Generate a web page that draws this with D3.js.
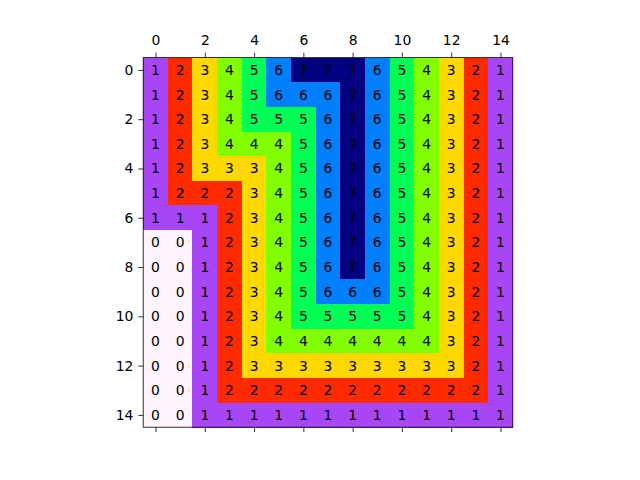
<!DOCTYPE html>
<html><head><meta charset="utf-8">
<script src="https://cdn.jsdelivr.net/npm/d3@7"></script>
<style>body{margin:0;background:#fff}svg{display:block}text{font-family:"DejaVu Sans",sans-serif}</style>
</head><body>
<svg id="c" width="640" height="480"></svg>
<script>
const rows = [
 [1,2,3,4,5,6,7,7,7,6,5,4,3,2,1],
 [1,2,3,4,5,6,6,6,7,6,5,4,3,2,1],
 [1,2,3,4,5,5,5,6,7,6,5,4,3,2,1],
 [1,2,3,4,4,4,5,6,7,6,5,4,3,2,1],
 [1,2,3,3,3,4,5,6,7,6,5,4,3,2,1],
 [1,2,2,2,3,4,5,6,7,6,5,4,3,2,1],
 [1,1,1,2,3,4,5,6,7,6,5,4,3,2,1],
 [0,0,1,2,3,4,5,6,7,6,5,4,3,2,1],
 [0,0,1,2,3,4,5,6,7,6,5,4,3,2,1],
 [0,0,1,2,3,4,5,6,6,6,5,4,3,2,1],
 [0,0,1,2,3,4,5,5,5,5,5,4,3,2,1],
 [0,0,1,2,3,4,4,4,4,4,4,4,3,2,1],
 [0,0,1,2,3,3,3,3,3,3,3,3,3,2,1],
 [0,0,1,2,2,2,2,2,2,2,2,2,2,2,1],
 [0,0,1,1,1,1,1,1,1,1,1,1,1,1,1]
];
const levels = [0,1,2,3,4,5,6,7];
const levelColors = ["#fef5fc","#a846f5","#ff2a00","#ffd800","#82ff00","#00ff55","#0080ff","#000080"];
const tickValues = [0,2,4,6,8,10,12,14];

(function(){
const svg = d3.select("#c");
const n = rows.length;
const x0 = 143.2, y0 = 57.6, size = 369.6;
const x = d3.scaleLinear().domain([-0.5, n-0.5]).range([x0, x0+size]);
const y = d3.scaleLinear().domain([-0.5, n-0.5]).range([y0, y0+size]);
const color = d3.scaleOrdinal().domain(levels).range(levelColors);

const cells = [];
rows.forEach((r,i)=>r.forEach((v,j)=>cells.push({i,j,v})));
const cw = x(1)-x(0);
svg.append("g").selectAll("rect").data(cells).join("rect")
  .attr("x", d=>x(d.j-0.5)).attr("y", d=>y(d.i-0.5))
  .attr("width", cw+0.5).attr("height", cw+0.5)
  .attr("fill", d=>color(d.v)).attr("shape-rendering","crispEdges");
svg.append("g").selectAll("text").data(cells).join("text")
  .attr("x", d=>x(d.j)).attr("y", d=>y(d.i)).attr("dy","0.36em")
  .attr("text-anchor","middle")
  .attr("font-size","13.9px").attr("fill","#000").text(d=>d.v);

const fmt = d3.format("d");
const gTop = svg.append("g").attr("transform",`translate(0,${y0})`)
  .call(d3.axisTop(x).tickValues(tickValues).tickFormat(fmt).tickSize(4.9).tickPadding(4.9));
const gBot = svg.append("g").attr("transform",`translate(0,${y0+size})`)
  .call(d3.axisBottom(x).tickValues(tickValues).tickFormat("").tickSize(4.9));
const gLeft = svg.append("g").attr("transform",`translate(${x0},0)`)
  .call(d3.axisLeft(y).tickValues(tickValues).tickFormat(fmt).tickSize(4.9).tickPadding(4.9));
[gTop,gBot,gLeft].forEach(g=>{
  g.select(".domain").remove();
  g.selectAll("line").attr("stroke","#000").attr("stroke-width",0.8);
  g.selectAll("text").attr("font-size","13.9px").attr("fill","#000").attr("font-family","DejaVu Sans, sans-serif");
});
gTop.selectAll("text").attr("dy","-0.23em");
svg.append("rect").attr("x",x0).attr("y",y0).attr("width",size).attr("height",size)
  .attr("fill","none").attr("stroke","#000").attr("stroke-width",0.8);
})();
</script>
</body></html>
